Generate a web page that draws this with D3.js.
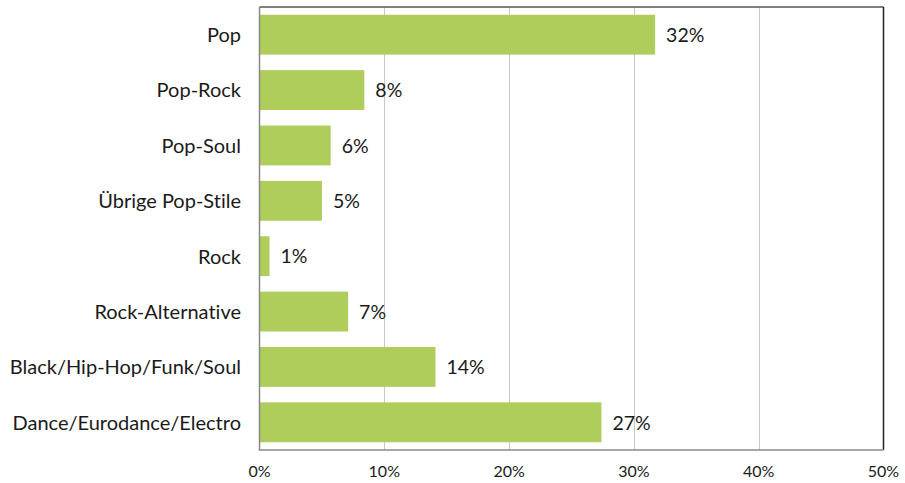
<!DOCTYPE html>
<html><head><meta charset="utf-8">
<script src="https://cdn.jsdelivr.net/npm/d3@7"></script>
<style>body{margin:0;background:#fff;} text{font-family:"Lato","Open Sans",sans-serif;fill:#1a1a1a;font-variant-ligatures:none;font-feature-settings:"liga" 0,"dlig" 0;}</style>
</head><body>
<svg id="c" width="905" height="483"></svg>
<script>
const categories = ["Pop","Pop-Rock","Pop-Soul","Übrige Pop-Stile","Rock","Rock-Alternative","Black/Hip-Hop/Funk/Soul","Dance/Eurodance/Electro"];
const values = [31.7, 8.4, 5.7, 5.0, 0.8, 7.1, 14.1, 27.4];
const valueLabels = ["32%","8%","6%","5%","1%","7%","14%","27%"];
const tickValues = [0,10,20,30,40,50];
const tickLabels = ["0%","10%","20%","30%","40%","50%"];

const svg = d3.select("#c");
const L = 259.5, R = 883.5, T = 7, B = 450;
const x = d3.scaleLinear().domain([0,50]).range([L,R]);
const y = d3.scaleBand().domain(categories).range([T,B]).paddingInner(0.28).paddingOuter(0.14);

// gridlines
svg.append("g").selectAll("line").data(tickValues.slice(1,-1)).join("line")
  .attr("x1",d=>Math.round(x(d))+0.5).attr("x2",d=>Math.round(x(d))+0.5)
  .attr("y1",T).attr("y2",B).attr("stroke","#c8c8c8").attr("stroke-width",1);

// bars
svg.append("g").selectAll("rect").data(values).join("rect")
  .attr("x",x(0)).attr("y",(d,i)=>y(categories[i]))
  .attr("width",d=>x(d)-x(0)).attr("height",y.bandwidth())
  .attr("fill","#aecd5a");

// frame
svg.append("line").attr("x1",L).attr("x2",R).attr("y1",T).attr("y2",T).attr("stroke","#555").attr("stroke-width",1.5);
svg.append("line").attr("x1",R).attr("x2",R).attr("y1",T).attr("y2",B).attr("stroke","#222").attr("stroke-width",1.5);
svg.append("line").attr("x1",L).attr("x2",L).attr("y1",T).attr("y2",B+0.75).attr("stroke","#888").attr("stroke-width",1.5);
svg.append("line").attr("x1",L).attr("x2",R).attr("y1",B).attr("y2",B).attr("stroke","#888").attr("stroke-width",1.5);

// category labels
svg.append("g").selectAll("text").data(categories).join("text")
  .attr("x",241).attr("y",d=>y(d)+y.bandwidth()/2).attr("dy","0.37em")
  .attr("text-anchor","end").attr("font-size",20).text(d=>d);

// value labels
svg.append("g").selectAll("text").data(values).join("text")
  .attr("x",d=>x(d)+11).attr("y",(d,i)=>y(categories[i])+y.bandwidth()/2).attr("dy","0.37em")
  .attr("font-size",19.5).text((d,i)=>valueLabels[i]);

// tick labels
svg.append("g").selectAll("text").data(tickValues).join("text")
  .attr("x",d=>x(d)).attr("y",477)
  .attr("text-anchor","middle").attr("font-size",16).text((d,i)=>tickLabels[i]);
</script>
</body></html>
